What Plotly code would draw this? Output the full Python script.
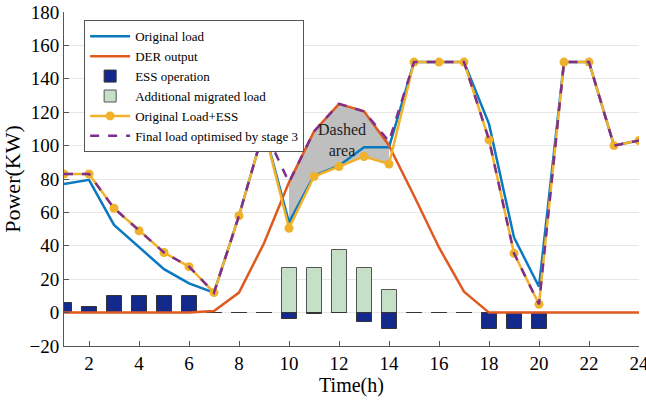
import plotly.graph_objects as go

hours = list(range(1, 25))
original_load = [77, 79.5, 52.5, 39, 26, 17.5, 12, 58, 110, 54, 82, 88, 99, 99,
                 150, 150, 150, 113, 45, 15.5, 150, 150, 100, 103]
der_output = [0, 0, 0, 0, 0, 0, 1, 12, 41.5, 78, 108.5, 125, 120.5, 100,
              70, 39, 12.5, 0, 0, 0, 0, 0, 0, 0]
ess_operation = [6, 3.5, 10, 10, 10, 10, 0, 0, 0, -4, -0.6, 0, -5.5, -10,
                 0, 0, 0, -10, -10, -10, 0, 0, 0, 0]
migrated_load = [0, 0, 0, 0, 0, 0, 0, 0, 0, 27, 27, 37.5, 27, 13.5,
                 0, 0, 0, 0, 0, 0, 0, 0, 0, 0]
load_plus_ess = [83, 83, 62.5, 49, 36, 27.5, 12, 58, 110, 50.5, 81.5, 87.5, 93.5, 89,
                 150, 150, 150, 103.5, 35.5, 5, 150, 150, 100, 103]
final_load = [83, 83, 62.5, 49, 36, 27.5, 12, 58, 110, 78, 108.5, 125, 120.5, 102.5,
              150, 150, 150, 103.5, 35.5, 5, 150, 150, 100, 103]
area_hours = [10, 11, 12, 13, 14]

FONT = "Times New Roman, Liberation Serif, serif"

fig = go.Figure()

# Dashed area (between final load and load+ESS)
idx = [hours.index(h) for h in area_hours]
fig.add_trace(go.Scatter(
    x=area_hours + area_hours[::-1],
    y=[final_load[i] for i in idx] + [load_plus_ess[i] for i in idx][::-1],
    fill="toself", fillcolor="#bfbfbf", line=dict(width=0),
    mode="lines", showlegend=False, hoverinfo="skip"))

fig.add_trace(go.Bar(
    x=hours, y=migrated_load, name="Additional migrated load", width=0.6,
    marker=dict(color="#c6e0c8", line=dict(color="#555555", width=1)),
    legendrank=4))
fig.add_trace(go.Bar(
    x=hours, y=ess_operation, name="ESS operation", width=0.6,
    marker=dict(color="#14298c", line=dict(color="#333333", width=1)),
    legendrank=3))

fig.add_trace(go.Scatter(
    x=hours, y=original_load, name="Original load", mode="lines",
    line=dict(color="#0a79c0", width=2.5), legendrank=1))
fig.add_trace(go.Scatter(
    x=hours, y=der_output, name="DER output", mode="lines",
    line=dict(color="#df5a1f", width=2.5), legendrank=2))
fig.add_trace(go.Scatter(
    x=hours, y=load_plus_ess, name="Original Load+ESS", mode="lines+markers",
    line=dict(color="#f0b22a", width=2.5),
    marker=dict(color="#f0b22a", size=9), legendrank=5))
fig.add_trace(go.Scatter(
    x=hours, y=final_load, name="Final load optimised by stage 3", mode="lines",
    line=dict(color="#7e2f8e", width=2.5, dash="dash"), legendrank=6))

fig.add_annotation(x=12.1, y=103.5, text="Dashed<br>area", showarrow=False,
                   font=dict(family=FONT, size=16, color="#222222"))

fig.update_layout(
    width=646, height=400,
    margin=dict(l=64, r=7, t=12, b=54),
    paper_bgcolor="white", plot_bgcolor="white",
    barmode="overlay", bargap=0,
    font=dict(family=FONT, color="black"),
    legend=dict(x=0.035, y=0.975, xanchor="left", yanchor="top",
                bgcolor="white", bordercolor="#555555", borderwidth=1,
                font=dict(family=FONT, size=13), tracegroupgap=0,
                traceorder="normal", itemwidth=40),
)
fig.update_xaxes(range=[1, 24], tickvals=list(range(2, 25, 2)),
                 ticks="inside", ticklen=5, tickcolor="#555555",
                 showline=True, linecolor="#555555", linewidth=1,
                 showgrid=False, zeroline=False, automargin=False,
                 ticklabeloverflow="allow",
                 tickfont=dict(family=FONT, size=19, color="black"),
                 title=dict(text="Time(h)", font=dict(family=FONT, size=20, color="black"), standoff=2))
fig.update_yaxes(range=[-20, 180], tickvals=list(range(-20, 181, 20)),
                 ticks="inside", ticklen=5, tickcolor="#555555",
                 showline=True, linecolor="#555555", linewidth=1,
                 showgrid=True, gridcolor="#e6e6e6", zeroline=False, automargin=False,
                 ticklabeloverflow="allow",
                 tickfont=dict(family=FONT, size=19, color="black"),
                 title=dict(text="Power(KW)", font=dict(family=FONT, size=22, color="black"), standoff=4))

# remove the default 8px page margin so the figure sits at the window's top-left
fig.write_html("out.html", config={"displayModeBar": False},
               post_script="document.body.style.margin='0';")
